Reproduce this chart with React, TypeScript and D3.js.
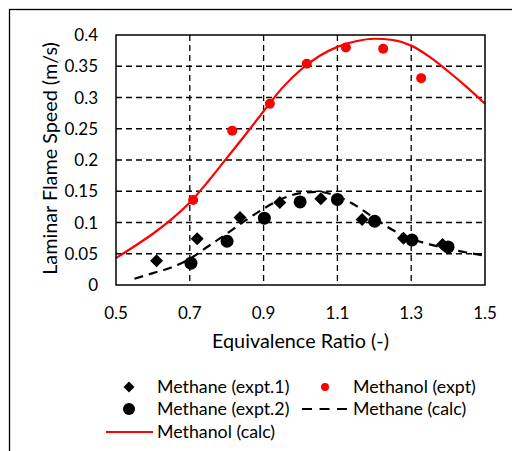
import React from "react";
import * as d3 from "d3";

const methanolExptX = [0.709, 0.815, 0.917, 1.017, 1.123, 1.224, 1.327];
const methanolExptY = [0.136, 0.247, 0.29, 0.354, 0.38, 0.378, 0.331];

const methane1X = [0.61, 0.72, 0.836, 0.944, 1.055, 1.167, 1.279, 1.385];
const methane1Y = [0.039, 0.074, 0.108, 0.132, 0.138, 0.105, 0.075, 0.065];

const methane2X = [0.703, 0.801, 0.902, 0.999, 1.1, 1.201, 1.302, 1.4];
const methane2Y = [0.035, 0.07, 0.107, 0.133, 0.137, 0.102, 0.072, 0.061];

const methanolCalcX = [0.5, 0.55, 0.6, 0.65, 0.7, 0.75, 0.8, 0.85, 0.9, 0.95, 1.0, 1.05, 1.1, 1.15, 1.2, 1.25, 1.3, 1.35, 1.4, 1.45, 1.5];
const methanolCalcY = [0.043, 0.062, 0.082, 0.105, 0.132, 0.166, 0.203, 0.24, 0.278, 0.315, 0.344, 0.366, 0.381, 0.39, 0.394, 0.392, 0.383, 0.365, 0.342, 0.317, 0.29];

const methaneCalcX = [0.55, 0.6, 0.65, 0.7, 0.75, 0.8, 0.85, 0.9, 0.95, 1.0, 1.05, 1.1, 1.15, 1.2, 1.25, 1.3, 1.35, 1.4, 1.45, 1.5];
const methaneCalcY = [0.01, 0.019, 0.028, 0.042, 0.062, 0.082, 0.103, 0.122, 0.138, 0.147, 0.149, 0.142, 0.127, 0.107, 0.088, 0.074, 0.065, 0.058, 0.052, 0.047];

const xTicks = [0.5, 0.7, 0.9, 1.1, 1.3, 1.5];
const yTicks = [0, 0.05, 0.1, 0.15, 0.2, 0.25, 0.3, 0.35, 0.4];

const FONT = "Lato, 'Open Sans', sans-serif";

export default function App() {
  const left = 116, right = 485, top = 35, bottom = 285;
  const x = d3.scaleLinear().domain([0.5, 1.5]).range([left, right]);
  const y = d3.scaleLinear().domain([0, 0.4]).range([bottom, top]);

  const line = d3
    .line<[number, number]>()
    .x((d) => x(d[0]))
    .y((d) => y(d[1]))
    .curve(d3.curveMonotoneX);

  const methanolPath = line(methanolCalcX.map((v, i) => [v, methanolCalcY[i]]) as [number, number][]) || "";
  const methanePath = line(methaneCalcX.map((v, i) => [v, methaneCalcY[i]]) as [number, number][]) || "";

  const diamondPath = (h: number) => `M0,${-h}L${h},0L0,${h}L${-h},0Z`;

  const fmt = (v: number) => (v === 0 ? "0" : String(+v.toFixed(2)));

  return (
    <svg
      width={512}
      height={451}
      style={{ position: "absolute", left: 0, top: 0, background: "#fff" }}
    >
      <rect x={0} y={0} width={512} height={451} fill="#fff" />
      <rect x={9.5} y={9.5} width={520} height={460} fill="none" stroke="#000" strokeWidth={1.3} />

      {/* gridlines */}
      {yTicks.slice(1, -1).map((t) => (
        <line key={"gy" + t} x1={left} x2={right} y1={y(t)} y2={y(t)} stroke="#000" strokeWidth={1.3} strokeDasharray="6,4" />
      ))}
      {xTicks.slice(1, -1).map((t) => (
        <line key={"gx" + t} x1={x(t)} x2={x(t)} y1={top} y2={bottom} stroke="#000" strokeWidth={1.3} strokeDasharray="6,4" />
      ))}

      {/* curves */}
      <path d={methanolPath} fill="none" stroke="#ff0000" strokeWidth={2.2} />
      <path d={methanePath} fill="none" stroke="#000" strokeWidth={2.2} strokeDasharray="9,6" />

      {/* points */}
      {methane1X.map((v, i) => (
        <path key={"d" + i} d={diamondPath(6.5)} transform={`translate(${x(v)},${y(methane1Y[i])})`} fill="#000" />
      ))}
      {methane2X.map((v, i) => (
        <circle key={"c" + i} cx={x(v)} cy={y(methane2Y[i])} r={6.5} fill="#000" />
      ))}
      {methanolExptX.map((v, i) => (
        <circle key={"r" + i} cx={x(v)} cy={y(methanolExptY[i])} r={5} fill="#ff0000" />
      ))}

      {/* frame */}
      <rect x={left} y={top} width={right - left} height={bottom - top} fill="none" stroke="#000" strokeWidth={1.5} />

      {/* tick labels */}
      {yTicks.map((t) => (
        <text key={"yl" + t} x={98} y={y(t)} dy="0.36em" textAnchor="end" fontFamily={FONT} fontSize={17} fill="#000">
          {fmt(t)}
        </text>
      ))}
      {xTicks.map((t) => (
        <text key={"xl" + t} x={x(t)} y={318.5} textAnchor="middle" fontFamily={FONT} fontSize={17} fill="#000">
          {fmt(t)}
        </text>
      ))}

      {/* axis titles */}
      <text x={300.5} y={348} textAnchor="middle" fontFamily={FONT} fontSize={19.8} fill="#000">
        Equivalence Ratio (-)
      </text>
      <text transform={`translate(57,${158.5}) rotate(-90)`} textAnchor="middle" fontFamily={FONT} fontSize={19.8} fill="#000">
        Laminar Flame Speed (m/s)
      </text>

      {/* legend */}
      <path d={diamondPath(5.5)} transform="translate(129,387)" fill="#000" />
      <text x={157} y={387} dy="0.36em" fontFamily={FONT} fontSize={17.8} fill="#000">Methane (expt.1)</text>
      <circle cx={325} cy={387} r={4} fill="#ff0000" />
      <text x={353} y={387} dy="0.36em" fontFamily={FONT} fontSize={17.8} fill="#000">Methanol (expt)</text>

      <circle cx={129} cy={409} r={6} fill="#000" />
      <text x={157} y={409} dy="0.36em" fontFamily={FONT} fontSize={17.8} fill="#000">Methane (expt.2)</text>
      <line x1={302} x2={347} y1={409} y2={409} stroke="#000" strokeWidth={2.2} strokeDasharray="10,7.5" />
      <text x={353} y={409} dy="0.36em" fontFamily={FONT} fontSize={17.8} fill="#000">Methane (calc)</text>

      <line x1={106} x2={153} y1={432} y2={432} stroke="#ff0000" strokeWidth={2.2} />
      <text x={157} y={432} dy="0.36em" fontFamily={FONT} fontSize={17.8} fill="#000">Methanol (calc)</text>
    </svg>
  );
}
